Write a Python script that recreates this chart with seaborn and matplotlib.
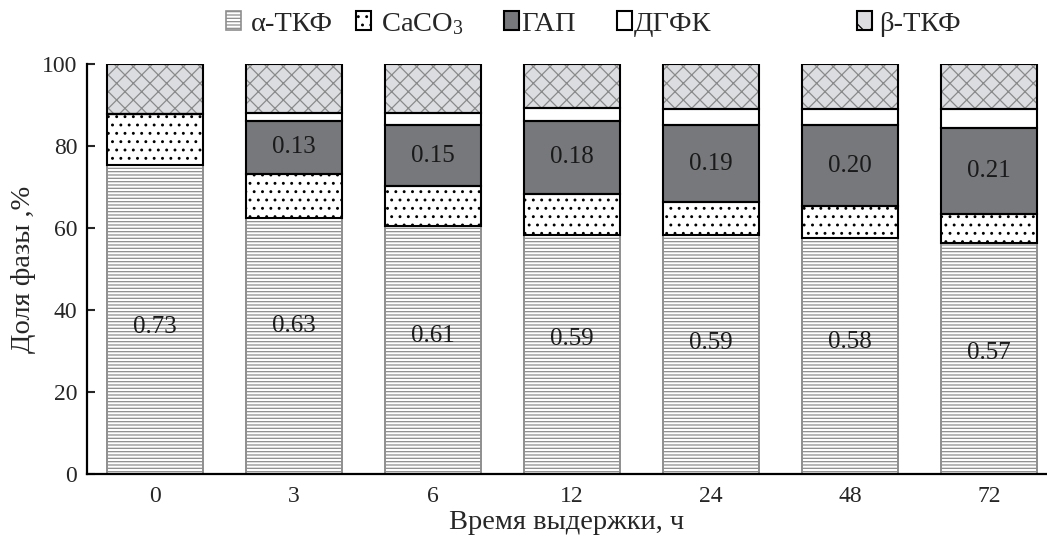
import numpy as np
import pandas as pd
import matplotlib.pyplot as plt
import seaborn as sns
from matplotlib.patches import Patch

# Data (% of phase per exposure time)
hours = ['0', '3', '6', '12', '24', '48', '72']
alpha_tcp = [75.4, 62.4, 60.4, 58.4, 58.4, 57.6, 56.4]
caco3 = [12.3, 10.8, 9.8, 9.9, 7.9, 7.7, 6.9]
hap = [0.0, 12.9, 14.9, 17.8, 18.8, 19.8, 21.0]
dcpd = [0.0, 2.0, 3.0, 3.1, 3.9, 3.9, 4.7]
beta_tcp = [12.3, 11.9, 11.9, 10.8, 11.0, 11.0, 11.0]
alpha_labels = ['0.73', '0.63', '0.61', '0.59', '0.59', '0.58', '0.57']
hap_labels = ['', '0.13', '0.15', '0.18', '0.19', '0.20', '0.21']
alpha_label_y = [35.9, 36.2, 33.7, 33.0, 32.0, 32.3, 29.6]

names = ['α-ТКФ', 'CaCO$_3$', 'ГАП', 'ДГФК', 'β-ТКФ']

df = pd.DataFrame({'hours': hours, 'a': alpha_tcp, 'c': caco3,
                   'h': hap, 'd': dcpd, 'b': beta_tcp})

sns.set_style('ticks')
plt.rcParams['font.family'] = ['Liberation Serif', 'DejaVu Serif']
plt.rcParams['mathtext.fontset'] = 'stix'
plt.rcParams['mathtext.default'] = 'regular'
plt.rcParams['hatch.linewidth'] = 0.9
plt.rcParams['font.size'] = 17

# (column, face, hatch colour, hatch, outline colour)
styles = [
    ('a', 'white', '#8e8e8e', '-----', None),
    ('c', 'white', 'black', '..', 'black'),
    ('h', '#77787b', '#77787b', None, 'black'),
    ('d', 'white', 'white', None, 'black'),
    ('b', '#dcdde0', '#8a8a8a', 'xx', 'black'),
]

fig = plt.figure(figsize=(10.47, 5.38), dpi=100)
ax = fig.add_axes([87 / 1047, 64 / 538, 960 / 1047, 410 / 538])

bw = 0.69
bottoms = {}
bottom = np.zeros(len(hours))
for col, fc, hc, hatch, oc in styles:
    bottoms[col] = bottom.copy()
    sns.barplot(data=df, x='hours', y=col, order=hours, bottom=bottom,
                width=bw, color=fc, saturation=1, edgecolor=hc,
                linewidth=1.4 if col == 'a' else 0, hatch=hatch,
                errorbar=None, ax=ax)
    if col == 'h':
        ax.bar_label(ax.containers[-1], labels=hap_labels,
                     label_type='center', fontsize=18, color='#1a1a1a')
    bottom = bottom + df[col].to_numpy()

# black outlines drawn on top
for col, fc, hc, hatch, oc in styles:
    if oc is None:
        continue
    sns.barplot(data=df, x='hours', y=col, order=hours, bottom=bottoms[col],
                width=bw, fill=False, color=oc, edgecolor=oc,
                linewidth=1.5, errorbar=None, ax=ax)

for i, (lab, ly) in enumerate(zip(alpha_labels, alpha_label_y)):
    ax.text(i, ly, lab, ha='center', va='center', fontsize=18, color='#1a1a1a')

ax.set_xlim(-0.489, 6.417)
ax.set_ylim(0, 100)
ax.set_yticks([0, 20, 40, 60, 80, 100])
ax.set_xlabel('Время выдержки, ч', fontsize=20.5, labelpad=2)
ax.set_ylabel('Доля фазы ,%', fontsize=20.5, labelpad=4)
ax.tick_params(axis='x', length=0, pad=9, labelsize=17)
ax.tick_params(axis='y', direction='in', length=6, width=1.5, pad=7, labelsize=17)
sns.despine(ax=ax)
for s in ['left', 'bottom']:
    ax.spines[s].set_linewidth(1.6)
    ax.spines[s].set_color('black')

# legend entries placed along the top
legend_x = [226, 356, 504, 617, 857]
pads = [0.35, 0.35, 0.08, 0.08, 0.25]
for (col, fc, hc, hatch, oc), name, lx, pad in zip(styles, names, legend_x, pads):
    if col == 'a':
        h = Patch(facecolor=fc, edgecolor=hc, hatch=hatch, linewidth=1.2)
    elif col == 'b':
        h = Patch(facecolor=fc, edgecolor=oc, hatch='x', linewidth=1.5)
    else:
        h = Patch(facecolor=fc, edgecolor=oc, hatch=hatch, linewidth=1.5)
    fig.legend(handles=[h], labels=[name], loc='upper left',
               bbox_to_anchor=(lx / 1047, 1 - 11 / 538), frameon=False,
               borderpad=0, borderaxespad=0, handlelength=0.52,
               handleheight=0.65, handletextpad=pad, fontsize=20.5)

plt.savefig('out.png', dpi=100)
plt.close()
